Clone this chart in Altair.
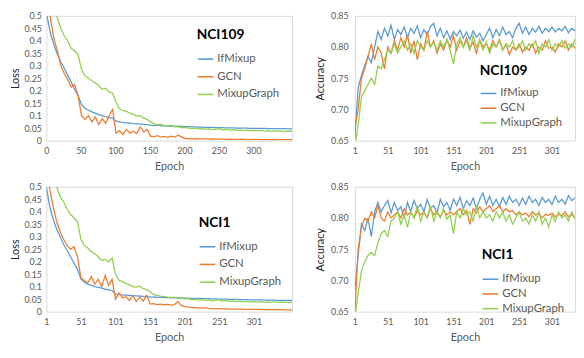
import altair as alt
import pandas as pd

series_names = ["IfMixup", "GCN", "MixupGraph"]
series_colors = ["#5B9BD5", "#ED7D31", "#92D050"]

epochs = list(range(1, 357, 5))

loss_ticks = [0, 0.05, 0.1, 0.15, 0.2, 0.25, 0.3, 0.35, 0.4, 0.45, 0.5]
acc_ticks = [0.65, 0.70, 0.75, 0.80, 0.85]
epoch_ticks_zero = [0, 50, 100, 150, 200, 250, 300]
epoch_ticks_one = [1, 51, 101, 151, 201, 251, 301]

# ---------------- NCI109 loss ----------------
nci109_loss_ifmixup = [
    0.50, 0.43, 0.385, 0.345, 0.315, 0.29, 0.262, 0.235, 0.205, 0.18,
    0.145, 0.13, 0.122, 0.115, 0.11, 0.104, 0.10, 0.096, 0.092, 0.09,
    0.078, 0.075, 0.072, 0.071, 0.07, 0.068, 0.067, 0.066, 0.065, 0.064,
    0.062, 0.060, 0.062, 0.059, 0.060, 0.058, 0.059, 0.057, 0.058, 0.057,
    0.056, 0.056, 0.055, 0.055, 0.054, 0.054, 0.053, 0.053, 0.053, 0.052,
    0.052, 0.052, 0.051, 0.051, 0.051, 0.05, 0.05, 0.05, 0.05, 0.049,
    0.049, 0.049, 0.049, 0.049, 0.048, 0.048, 0.048, 0.048, 0.048, 0.048,
    0.047, 0.047,
]
nci109_loss_gcn = [
    0.60, 0.49, 0.41, 0.36, 0.30, 0.27, 0.245, 0.215, 0.225, 0.18,
    0.10, 0.085, 0.10, 0.075, 0.095, 0.065, 0.088, 0.07, 0.10, 0.125,
    0.03, 0.04, 0.025, 0.045, 0.03, 0.038, 0.028, 0.055, 0.035, 0.045,
    0.018, 0.015, 0.02, 0.014, 0.017, 0.013, 0.018, 0.014, 0.022, 0.015,
    0.008, 0.009, 0.007, 0.008, 0.007, 0.007, 0.008, 0.006, 0.007, 0.006,
    0.006, 0.006, 0.005, 0.006, 0.005, 0.005, 0.006, 0.005, 0.005, 0.004,
    0.005, 0.005, 0.004, 0.005, 0.004, 0.004, 0.005, 0.004, 0.004, 0.004,
    0.004, 0.004,
]
nci109_loss_mixupgraph = [
    0.75, 0.65, 0.56, 0.49, 0.45, 0.42, 0.40, 0.37, 0.36, 0.345,
    0.285, 0.26, 0.25, 0.24, 0.232, 0.22, 0.205, 0.21, 0.195, 0.19,
    0.155, 0.128, 0.12, 0.118, 0.11, 0.105, 0.098, 0.10, 0.09, 0.085,
    0.075, 0.068, 0.062, 0.065, 0.06, 0.058, 0.062, 0.055, 0.056, 0.052,
    0.053, 0.05, 0.048, 0.05, 0.047, 0.048, 0.045, 0.047, 0.044, 0.046,
    0.048, 0.043, 0.045, 0.042, 0.044, 0.041, 0.043, 0.04, 0.042, 0.04,
    0.041, 0.039, 0.041, 0.038, 0.04, 0.037, 0.04, 0.038, 0.039, 0.037,
    0.038, 0.037,
]

# ---------------- NCI109 accuracy ----------------
nci109_acc_ifmixup = [
    0.655, 0.735, 0.755, 0.77, 0.785, 0.775, 0.80, 0.825, 0.812, 0.83,
    0.818, 0.835, 0.812, 0.828, 0.82, 0.832, 0.815, 0.83, 0.822, 0.834,
    0.815, 0.828, 0.82, 0.833, 0.838, 0.818, 0.83, 0.815, 0.826, 0.812,
    0.825, 0.818, 0.827, 0.814, 0.824, 0.812, 0.826, 0.816, 0.822, 0.81,
    0.82, 0.83, 0.815, 0.828, 0.818, 0.832, 0.82, 0.825, 0.815, 0.83,
    0.838, 0.822, 0.832, 0.82, 0.83, 0.824, 0.833, 0.822, 0.83, 0.825,
    0.832, 0.824, 0.83, 0.826, 0.833, 0.823, 0.83, 0.826, 0.835, 0.828,
    0.836, 0.83,
]
nci109_acc_gcn = [
    0.67, 0.70, 0.75, 0.765, 0.785, 0.805, 0.78, 0.80, 0.79, 0.765,
    0.80, 0.79, 0.81, 0.795, 0.815, 0.80, 0.82, 0.79, 0.81, 0.78,
    0.805, 0.795, 0.825, 0.80, 0.81, 0.79, 0.805, 0.795, 0.812, 0.80,
    0.818, 0.795, 0.81, 0.80, 0.815, 0.798, 0.808, 0.79, 0.812, 0.80,
    0.805, 0.795, 0.81, 0.80, 0.812, 0.795, 0.805, 0.788, 0.80, 0.795,
    0.805, 0.792, 0.80, 0.795, 0.805, 0.79, 0.80, 0.795, 0.81, 0.798,
    0.80, 0.792, 0.805, 0.80, 0.81, 0.795, 0.805, 0.798, 0.80, 0.808,
    0.802, 0.80,
]
nci109_acc_mixupgraph = [
    0.64, 0.675, 0.72, 0.73, 0.74, 0.75, 0.74, 0.77, 0.765, 0.78,
    0.795, 0.79, 0.805, 0.79, 0.80, 0.81, 0.795, 0.805, 0.79, 0.81,
    0.80, 0.795, 0.81, 0.80, 0.808, 0.795, 0.81, 0.80, 0.812, 0.795,
    0.773, 0.805, 0.815, 0.80, 0.81, 0.795, 0.818, 0.80, 0.81, 0.795,
    0.808, 0.79, 0.805, 0.80, 0.81, 0.795, 0.805, 0.80, 0.81, 0.795,
    0.80, 0.81, 0.795, 0.805, 0.80, 0.81, 0.79, 0.805, 0.80, 0.812,
    0.795, 0.805, 0.80, 0.81, 0.798, 0.805, 0.80, 0.812, 0.80, 0.81,
    0.805, 0.81,
]

# ---------------- NCI1 loss ----------------
nci1_loss_ifmixup = [
    0.50, 0.42, 0.37, 0.33, 0.30, 0.27, 0.245, 0.22, 0.195, 0.17,
    0.13, 0.118, 0.11, 0.105, 0.10, 0.097, 0.094, 0.09, 0.087, 0.084,
    0.07, 0.068, 0.067, 0.066, 0.065, 0.064, 0.063, 0.062, 0.061, 0.06,
    0.058, 0.058, 0.057, 0.057, 0.056, 0.056, 0.056, 0.055, 0.055, 0.055,
    0.054, 0.054, 0.053, 0.053, 0.053, 0.052, 0.052, 0.052, 0.051, 0.051,
    0.05, 0.05, 0.05, 0.049, 0.049, 0.049, 0.048, 0.048, 0.048, 0.047,
    0.047, 0.047, 0.047, 0.046, 0.046, 0.046, 0.046, 0.045, 0.045, 0.045,
    0.045, 0.045,
]
nci1_loss_gcn = [
    0.60, 0.49, 0.42, 0.36, 0.32, 0.29, 0.265, 0.25, 0.26, 0.22,
    0.135, 0.125, 0.115, 0.14, 0.11, 0.13, 0.10, 0.145, 0.105, 0.13,
    0.05, 0.075, 0.055, 0.06, 0.045, 0.065, 0.04, 0.058, 0.042, 0.065,
    0.03, 0.032, 0.028, 0.03, 0.027, 0.029, 0.026, 0.028, 0.04, 0.025,
    0.02, 0.018, 0.017, 0.016, 0.015, 0.014, 0.016, 0.013, 0.012, 0.012,
    0.011, 0.011, 0.011, 0.01, 0.01, 0.01, 0.01, 0.01, 0.009, 0.009,
    0.009, 0.009, 0.009, 0.008, 0.008, 0.008, 0.008, 0.008, 0.008, 0.007,
    0.007, 0.007,
]
nci1_loss_mixupgraph = [
    0.75, 0.65, 0.57, 0.50, 0.46, 0.44, 0.41, 0.39, 0.375, 0.36,
    0.29, 0.265, 0.255, 0.24, 0.232, 0.22, 0.205, 0.21, 0.198, 0.215,
    0.15, 0.125, 0.12, 0.113, 0.107, 0.10, 0.098, 0.102, 0.092, 0.088,
    0.08, 0.068, 0.065, 0.062, 0.06, 0.058, 0.055, 0.058, 0.052, 0.055,
    0.05, 0.052, 0.048, 0.05, 0.046, 0.048, 0.045, 0.047, 0.043, 0.045,
    0.048, 0.042, 0.044, 0.041, 0.043, 0.04, 0.042, 0.039, 0.041, 0.038,
    0.04, 0.038, 0.04, 0.037, 0.039, 0.037, 0.04, 0.037, 0.039, 0.037,
    0.038, 0.037,
]

# ---------------- NCI1 accuracy ----------------
nci1_acc_ifmixup = [
    0.685, 0.74, 0.79, 0.78, 0.80, 0.77, 0.81, 0.825, 0.81, 0.82,
    0.828, 0.808, 0.825, 0.812, 0.818, 0.80, 0.825, 0.81, 0.828, 0.815,
    0.822, 0.81, 0.83, 0.815, 0.82, 0.808, 0.83, 0.818, 0.825, 0.812,
    0.83, 0.82, 0.833, 0.815, 0.828, 0.82, 0.832, 0.815, 0.83, 0.84,
    0.822, 0.835, 0.82, 0.83, 0.818, 0.833, 0.822, 0.835, 0.825, 0.83,
    0.82, 0.832, 0.822, 0.835, 0.825, 0.83, 0.82, 0.833, 0.825, 0.83,
    0.822, 0.835, 0.825, 0.83, 0.822, 0.836, 0.828, 0.832, 0.825, 0.835,
    0.828, 0.832,
]
nci1_acc_gcn = [
    0.65, 0.75, 0.785, 0.80, 0.795, 0.81, 0.80, 0.82, 0.80, 0.795,
    0.81, 0.80, 0.805, 0.81, 0.80, 0.815, 0.805, 0.81, 0.80, 0.812,
    0.805, 0.81, 0.80, 0.815, 0.805, 0.81, 0.802, 0.812, 0.805, 0.81,
    0.805, 0.81, 0.815, 0.805, 0.812, 0.79, 0.815, 0.808, 0.818, 0.81,
    0.815, 0.82, 0.81, 0.815, 0.82, 0.81, 0.815, 0.81, 0.812, 0.805,
    0.81, 0.805, 0.808, 0.802, 0.81, 0.805, 0.808, 0.80, 0.806, 0.804,
    0.808, 0.802, 0.806, 0.804, 0.81, 0.802, 0.806, 0.80, 0.805, 0.802,
    0.806, 0.803,
]
nci1_acc_mixupgraph = [
    0.64, 0.68, 0.715, 0.73, 0.74, 0.745, 0.74, 0.76, 0.775, 0.78,
    0.77, 0.795, 0.80, 0.81, 0.79, 0.805, 0.785, 0.81, 0.80, 0.82,
    0.795, 0.81, 0.80, 0.82, 0.795, 0.81, 0.80, 0.815, 0.798, 0.805,
    0.775, 0.81, 0.80, 0.815, 0.805, 0.81, 0.795, 0.82, 0.80, 0.81,
    0.80, 0.805, 0.795, 0.81, 0.80, 0.81, 0.795, 0.805, 0.79, 0.80,
    0.81, 0.795, 0.80, 0.79, 0.805, 0.795, 0.81, 0.79, 0.80, 0.785,
    0.805, 0.795, 0.81, 0.80, 0.805, 0.795, 0.81, 0.80, 0.805, 0.80,
    0.81, 0.805,
]


def long_df(a, b, c):
    rows = []
    for name, vals in zip(series_names, (a, b, c)):
        assert len(vals) == len(epochs), (name, len(vals))
        for e, v in zip(epochs, vals):
            rows.append({"epoch": e, "value": v, "series": name})
    return pd.DataFrame(rows)


def panel(df, title, ytitle, ydomain, yticks, yfmt, xdomain, xticks, w, h,
          lx, ly, rowpad, titlepad, ylabpad, ytitlepad):
    return alt.Chart(df).mark_line(strokeWidth=1.3, clip=True).encode(
        x=alt.X("epoch:Q",
                scale=alt.Scale(domain=xdomain, nice=False, zero=False),
                axis=alt.Axis(values=xticks, format="d", title="Epoch",
                              titleColor="#595959", labelPadding=6,
                              titlePadding=5, labelFlush=False)),
        y=alt.Y("value:Q",
                scale=alt.Scale(domain=ydomain, nice=False, zero=False),
                axis=alt.Axis(values=yticks, format=yfmt, title=ytitle,
                              titleColor="#262626", labelPadding=ylabpad,
                              titlePadding=ytitlepad)),
        color=alt.Color("series:N",
                        scale=alt.Scale(domain=series_names, range=series_colors),
                        legend=alt.Legend(title=title, orient="none",
                                          legendX=lx, legendY=ly,
                                          symbolType="stroke", symbolSize=256,
                                          symbolStrokeWidth=1.6,
                                          labelFontSize=11.5, labelColor="#595959",
                                          titleFontSize=14, titleFontWeight="bold",
                                          titleColor="#000000",
                                          rowPadding=rowpad, titlePadding=titlepad,
                                          labelOffset=3, padding=0)),
    ).properties(width=w, height=h)


H = 127
LW = 250
RW = 224

tl = panel(long_df(nci109_loss_ifmixup, nci109_loss_gcn, nci109_loss_mixupgraph),
           "NCI109", "Loss", [0, 0.5], loss_ticks, ".2~f", [0, 356], epoch_ticks_zero,
           LW, H, 153, 13, 3, 8, 5, 4)
tr = panel(long_df(nci109_acc_ifmixup, nci109_acc_gcn, nci109_acc_mixupgraph),
           "NCI109", "Accuracy", [0.65, 0.85], acc_ticks, ".2f", [1, 336], epoch_ticks_one,
           RW, H, 127, 49, -1, 7, 7, 5)
bl = panel(long_df(nci1_loss_ifmixup, nci1_loss_gcn, nci1_loss_mixupgraph),
           "NCI1", "Loss", [0, 0.5], loss_ticks, ".2~f", [1, 356], epoch_ticks_one,
           LW, H, 155, 30, 3, 8, 5, 4)
br = panel(long_df(nci1_acc_ifmixup, nci1_acc_gcn, nci1_acc_mixupgraph),
           "NCI1", "Accuracy", [0.65, 0.85], acc_ticks, ".2f", [1, 336], epoch_ticks_one,
           RW, H, 129, 62, -1, 9, 7, 5)

top = alt.hconcat(tl, tr, spacing=21).resolve_scale(color="independent").resolve_legend(color="independent")
bottom = alt.hconcat(bl, br, spacing=21).resolve_scale(color="independent").resolve_legend(color="independent")

chart = alt.vconcat(top, bottom, spacing=10).resolve_scale(
    color="independent").resolve_legend(color="independent").properties(
    padding=0, background="white"
).configure(font="Lato").configure_view(
    stroke="#d9d9d9", strokeWidth=1
).configure_axis(
    domain=False, ticks=False, grid=False, labelColor="#595959",
    labelFontSize=9, titleFontSize=11, titleFontWeight="normal",
    labelFont="Lato", titleFont="Lato"
)

chart.save("out.html", embed_options={"renderer": "svg", "actions": False})
